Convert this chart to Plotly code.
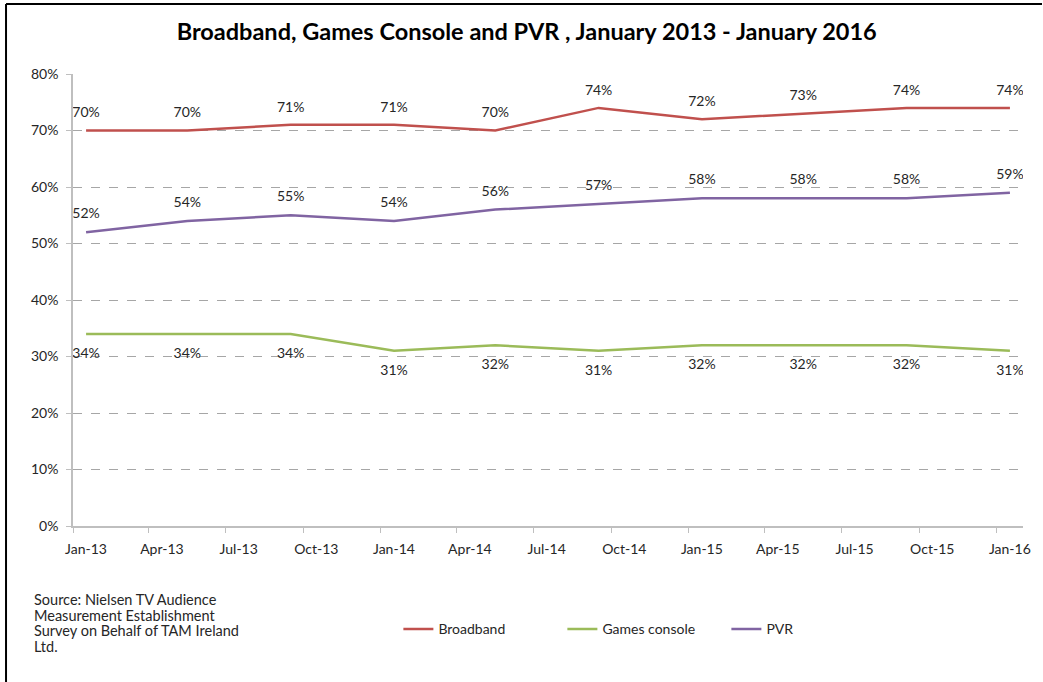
import plotly.graph_objs as go

# survey months (one point every 4 months)
months = ["2013-01", "2013-05", "2013-09", "2014-01", "2014-05",
          "2014-09", "2015-01", "2015-05", "2015-09", "2016-01"]
broadband = [70, 70, 71, 71, 70, 74, 72, 73, 74, 74]
games_console = [34, 34, 34, 31, 32, 31, 32, 32, 32, 31]
pvr = [52, 54, 55, 54, 56, 57, 58, 58, 58, 59]

tick_months = ["2013-01-01", "2013-04-01", "2013-07-01", "2013-10-01",
               "2014-01-01", "2014-04-01", "2014-07-01", "2014-10-01",
               "2015-01-01", "2015-04-01", "2015-07-01", "2015-10-01",
               "2016-01-01"]
tick_labels = ["Jan-13", "Apr-13", "Jul-13", "Oct-13", "Jan-14", "Apr-14",
               "Jul-14", "Oct-14", "Jan-15", "Apr-15", "Jul-15", "Oct-15",
               "Jan-16"]

source_lines = ["Source: Nielsen TV Audience", "Measurement Establishment",
                "Survey on Behalf of TAM Ireland", "Ltd."]

FONT = "Lato, 'Open Sans', sans-serif"
TXT = "#262626"

fig = go.Figure()


def add_series(name, values, color, pos, gap):
    fig.add_trace(go.Scatter(
        x=months, y=values, name=name,
        xperiod="M1", xperiodalignment="middle",
        mode="lines+markers+text",
        # invisible markers only push the value labels away from the line
        marker=dict(size=gap, color="rgba(0,0,0,0)"),
        text=[f"{v}%" for v in values],
        textposition=pos,
        textfont=dict(family=FONT, size=14, color=TXT),
        line=dict(color=color, width=2.5),
    ))


add_series("Broadband", broadband, "#C0504D", "top center", 14)
add_series("Games console", games_console, "#9BBB59", "bottom center", 20)
add_series("PVR", pvr, "#8064A2", "top center", 15)

# source note, one line each
for i, line in enumerate(source_lines):
    fig.add_annotation(
        xref="paper", yref="paper", x=-0.0428, y=-0.1637 - i * 0.0343,
        xanchor="left", yanchor="middle", showarrow=False,
        text=line, font=dict(family=FONT, size=14.5, color=TXT),
    )

# frame lines (top and left edge of the chart area)
fig.add_shape(type="line", xref="paper", yref="paper",
              x0=-0.0705, x1=1.02, y0=1.155, y1=1.155,
              line=dict(color="black", width=2))
fig.add_shape(type="line", xref="paper", yref="paper",
              x0=-0.0705, x1=-0.0705, y0=1.155, y1=-0.35,
              line=dict(color="black", width=2))

fig.update_layout(
    width=1043, height=682,
    margin=dict(l=73, r=13, t=74, b=156),
    paper_bgcolor="white", plot_bgcolor="white",
    font=dict(family=FONT, size=13, color=TXT),
    title=dict(
        text="<b>Broadband, Games Console and PVR , January 2013 - January 2016</b>",
        x=0.505, xanchor="center", y=0.953, yanchor="middle",
        font=dict(family=FONT, size=23.5, color="black"),
    ),
    showlegend=True,
    legend=dict(
        orientation="h", x=0.3425, y=-0.2285, xanchor="left", yanchor="middle",
        font=dict(family=FONT, size=14, color=TXT),
        itemwidth=30, entrywidth=119, traceorder="normal",
    ),
    xaxis=dict(
        type="date", range=["2013-01-01", "2016-02-01"],
        tickvals=tick_months, ticktext=tick_labels,
        ticklabelshift=13, ticklabelstandoff=4,
        ticks="outside", ticklen=5, tickcolor="#BFBFBF",
        showline=True, linecolor="#BFBFBF", linewidth=1.5,
        showgrid=False, zeroline=False,
        tickfont=dict(family=FONT, size=14, color=TXT),
    ),
    yaxis=dict(
        range=[0, 80], tickvals=[0, 10, 20, 30, 40, 50, 60, 70, 80],
        ticktext=["0%", "10%", "20%", "30%", "40%", "50%", "60%", "70%", "80%"],
        ticks="outside", ticklen=5, tickcolor="#BFBFBF",
        ticklabelstandoff=5,
        showline=True, linecolor="#BFBFBF", linewidth=1.5,
        showgrid=True, gridcolor="#A6A6A6", griddash="dash", gridwidth=1,
        zeroline=False,
        tickfont=dict(family=FONT, size=14, color=TXT),
    ),
)

fig.write_html("out.html", config={"displayModeBar": False},
               post_script="document.body.style.margin = '0';")
